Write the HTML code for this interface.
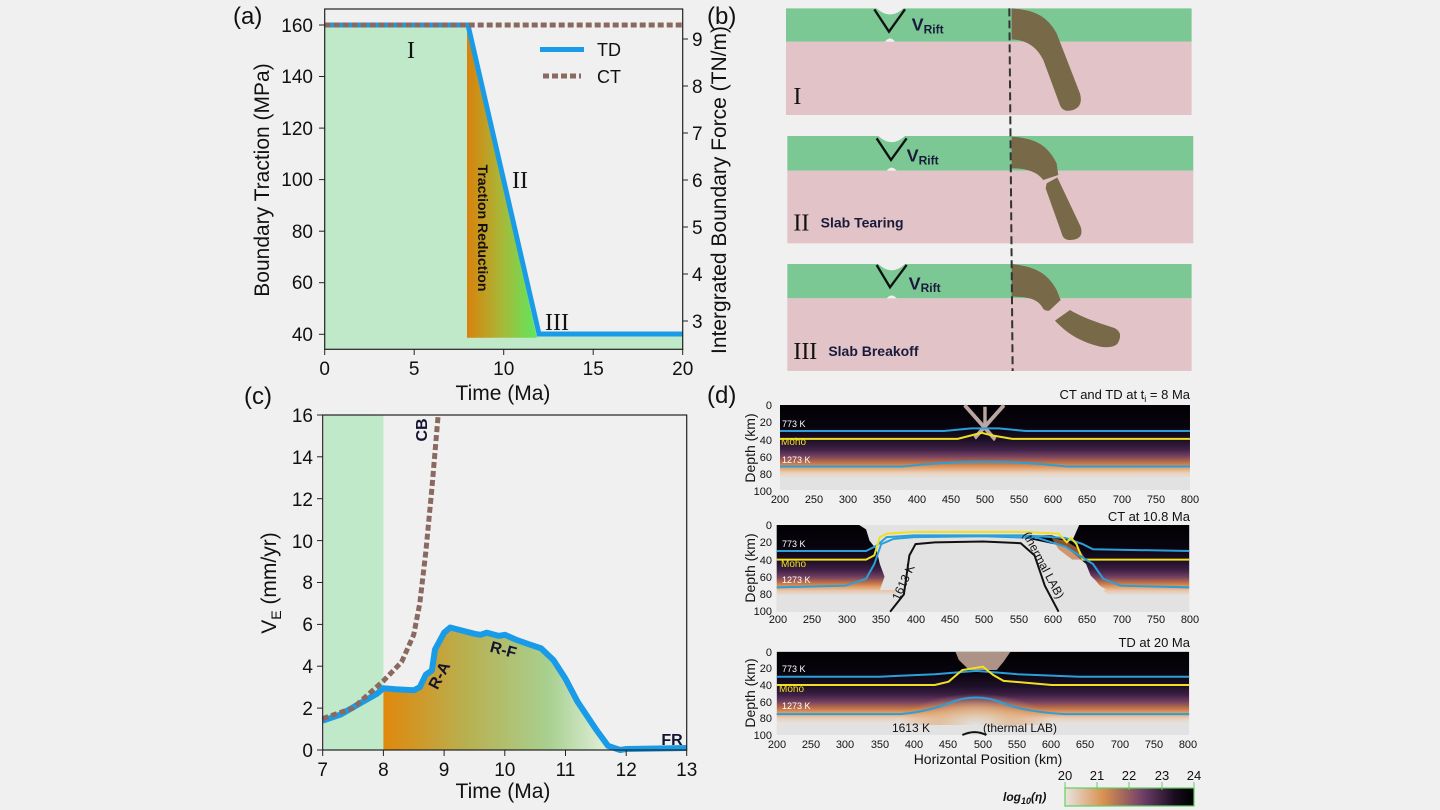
<!DOCTYPE html><html><head><style>body{margin:0;background:#f0f0f0}svg{display:block}text{font-family:"Liberation Sans",sans-serif;fill:#111}text.sf{font-family:"Liberation Serif",serif}</style></head><body>
<svg width="1440" height="810" viewBox="0 0 1440 810" xmlns="http://www.w3.org/2000/svg">
<defs>
<linearGradient id="tri" x1="0" x2="1" y1="0" y2="0"><stop offset="0" stop-color="#d8820c"/><stop offset="0.5" stop-color="#a8b838"/><stop offset="1" stop-color="#5ee85e"/></linearGradient>
<linearGradient id="cg" gradientUnits="userSpaceOnUse" x1="383" x2="620" y1="0" y2="0"><stop offset="0" stop-color="#e0880c"/><stop offset="0.35" stop-color="#b8b050"/><stop offset="0.7" stop-color="#a8d090"/><stop offset="1" stop-color="#eef6ea"/></linearGradient>
<linearGradient id="hm" x1="0" x2="0" y1="0" y2="1"><stop offset="0" stop-color="#020003"/><stop offset="0.25" stop-color="#08040e"/><stop offset="0.42" stop-color="#1e1028"/><stop offset="0.52" stop-color="#3e2045"/><stop offset="0.6" stop-color="#744060"/><stop offset="0.67" stop-color="#b86c48"/><stop offset="0.73" stop-color="#e09a60"/><stop offset="0.8" stop-color="#ead0ba"/><stop offset="0.86" stop-color="#e2e2e2"/><stop offset="1" stop-color="#e2e2e2"/></linearGradient>
<linearGradient id="hm2" gradientUnits="userSpaceOnUse" x1="0" x2="0" y1="0" y2="100"><stop offset="0" stop-color="#020003"/><stop offset="0.25" stop-color="#08040e"/><stop offset="0.42" stop-color="#1e1028"/><stop offset="0.52" stop-color="#3e2045"/><stop offset="0.6" stop-color="#744060"/><stop offset="0.66" stop-color="#b86c48"/><stop offset="0.71" stop-color="#e09a60"/><stop offset="0.76" stop-color="#e8c8b0"/><stop offset="0.82" stop-color="#e2e2e2"/></linearGradient>
<radialGradient id="bump" cx="0.5" cy="0.5" r="0.5"><stop offset="0" stop-color="#e2e2e2"/><stop offset="0.5" stop-color="#e0b890" stop-opacity="0.8"/><stop offset="1" stop-color="#e0a070" stop-opacity="0"/></radialGradient>
<linearGradient id="cb" x1="0" x2="1"><stop offset="0" stop-color="#e8e4e0"/><stop offset="0.3" stop-color="#d89050"/><stop offset="0.6" stop-color="#70406a"/><stop offset="0.85" stop-color="#1a0c20"/><stop offset="1" stop-color="#000"/></linearGradient>
<clipPath id="c3"><rect x="200" y="0" width="600" height="100"/></clipPath>
</defs>

<!-- PANEL A -->
<text x="233" y="24" font-size="24">(a)</text>
<rect x="324.7" y="25" width="143.3" height="324.3" fill="#bfe9c9"/>
<rect x="468" y="334" width="214.7" height="15.3" fill="#bfe9c9"/>
<polygon points="467,25 537,337.7 467,337.7" fill="url(#tri)"/>
<polyline points="324.7,25 468,25 539,334 682.7,334" fill="none" stroke="#1a9be8" stroke-width="5"/>
<line x1="324.7" y1="25" x2="682.7" y2="25" stroke="#8a6a60" stroke-width="5" stroke-dasharray="6,3"/>
<rect x="324.7" y="9" width="358" height="340.3" fill="none" stroke="#222" stroke-width="1.2"/>
<g font-size="19" text-anchor="end">
<text x="313" y="341">40</text><text x="313" y="289">60</text><text x="313" y="238">80</text><text x="313" y="186">100</text><text x="313" y="135">120</text><text x="313" y="83">140</text><text x="313" y="32">160</text></g>
<g stroke="#222"><line x1="319" y1="334.3" x2="324.7" y2="334.3"/><line x1="319" y1="282.7" x2="324.7" y2="282.7"/><line x1="319" y1="231.2" x2="324.7" y2="231.2"/><line x1="319" y1="179.6" x2="324.7" y2="179.6"/><line x1="319" y1="128.1" x2="324.7" y2="128.1"/><line x1="319" y1="76.5" x2="324.7" y2="76.5"/><line x1="319" y1="25" x2="324.7" y2="25"/>
<line x1="682.7" y1="39" x2="688" y2="39"/><line x1="682.7" y1="86" x2="688" y2="86"/><line x1="682.7" y1="133" x2="688" y2="133"/><line x1="682.7" y1="180" x2="688" y2="180"/><line x1="682.7" y1="227" x2="688" y2="227"/><line x1="682.7" y1="274" x2="688" y2="274"/><line x1="682.7" y1="321" x2="688" y2="321"/>
<line x1="324.7" y1="349" x2="324.7" y2="355"/><line x1="414.2" y1="349" x2="414.2" y2="355"/><line x1="503.7" y1="349" x2="503.7" y2="355"/><line x1="593.2" y1="349" x2="593.2" y2="355"/><line x1="682.7" y1="349" x2="682.7" y2="355"/></g>
<g font-size="19"><text x="692" y="46">9</text><text x="692" y="93">8</text><text x="692" y="140">7</text><text x="692" y="187">6</text><text x="692" y="234">5</text><text x="692" y="281">4</text><text x="692" y="328">3</text></g>
<g font-size="19" text-anchor="middle"><text x="324.7" y="375">0</text><text x="414.2" y="375">5</text><text x="503.7" y="375">10</text><text x="593.2" y="375">15</text><text x="682.7" y="375">20</text></g>
<text x="503" y="400" font-size="21" text-anchor="middle">Time (Ma)</text>
<text transform="translate(269,180) rotate(-90)" font-size="21" text-anchor="middle">Boundary Traction (MPa)</text>
<text transform="translate(726,190) rotate(-90)" font-size="21" text-anchor="middle">Intergrated Boundary Force (TN/m)</text>
<line x1="540" y1="49.5" x2="584" y2="49.5" stroke="#1a9be8" stroke-width="5"/><text x="597" y="56" font-size="18">TD</text>
<line x1="543" y1="76" x2="581" y2="76" stroke="#8a6a60" stroke-width="5" stroke-dasharray="6,3"/><text x="597" y="83" font-size="18">CT</text>
<g font-size="24"><text class="sf" x="411" y="58" text-anchor="middle">I</text><text class="sf" x="520" y="188" text-anchor="middle">II</text><text class="sf" x="557" y="330" text-anchor="middle">III</text></g>
<text transform="translate(478,228) rotate(90)" font-size="14" font-weight="bold" text-anchor="middle">Traction Reduction</text>

<!-- PANEL B -->
<text x="707" y="24" font-size="24">(b)</text>
<g transform="translate(780,0) scale(0.3333)">
<g fill="#e2c4c8"><rect x="18" y="125" width="1217" height="220"/><rect x="22" y="512" width="1218" height="218"/><rect x="22" y="895" width="1213" height="218"/></g>
<g fill="#7cc895">
<path d="M18,25 L290,25 Q330,62 370,25 L1235,25 L1235,125 L345,125 Q330,105 315,125 L18,125 Z"/>
<path d="M22,408 L295,408 Q335,445 375,408 L1240,408 L1240,512 L350,512 Q335,494 320,512 L22,512 Z"/>
<path d="M22,792 L295,792 Q335,830 375,792 L1235,792 L1235,895 L350,895 Q335,878 320,895 L22,895 Z"/></g>
<g fill="#786a48">
<path d="M695,25 C760,30 800,45 830,100 L900,280 Q912,325 870,332 Q845,335 838,310 L790,180 C770,140 740,120 695,118 Z"/>
<path d="M695,410 C760,415 800,430 830,490 L835,525 L790,540 C770,515 740,505 695,505 Z"/>
<path d="M800,550 L832,532 L902,680 Q914,718 872,720 Q850,722 845,700 L797,565 Z"/>
<path d="M695,792 C760,800 800,815 830,870 L842,900 L808,932 Q792,935 786,920 C770,895 740,890 695,890 Z"/>
<path d="M825,962 L870,930 C920,960 980,975 1005,985 Q1032,1000 1012,1032 Q995,1046 960,1040 C900,1025 860,1000 825,962 Z"/></g>
<line x1="688" y1="25" x2="698" y2="1113" stroke="#333" stroke-width="6" stroke-dasharray="24,12"/>
<g fill="none" stroke="#111" stroke-width="7"><polyline points="283,28 327,95 375,28"/><polyline points="290,415 333,480 380,415"/><polyline points="290,795 330,862 380,795"/></g>
<g font-weight="bold">
<text x="395" y="92" font-size="54" style="fill:#1a1a3a">V<tspan font-size="36" dy="8">Rift</tspan></text>
<text x="380" y="485" font-size="54" style="fill:#1a1a3a">V<tspan font-size="36" dy="8">Rift</tspan></text>
<text x="386" y="868" font-size="54" style="fill:#1a1a3a">V<tspan font-size="36" dy="8">Rift</tspan></text>
<text x="122" y="682" font-size="42" style="fill:#1a1a3a">Slab Tearing</text>
<text x="145" y="1068" font-size="42" style="fill:#1a1a3a">Slab Breakoff</text></g>
<g font-size="72"><text class="sf" x="40" y="312">I</text><text class="sf" x="40" y="692">II</text><text class="sf" x="40" y="1077">III</text></g>
</g>

<!-- PANEL C -->
<text x="244" y="404" font-size="24">(c)</text>
<rect x="324" y="415" width="59.4" height="335" fill="#bfe9c9"/>
<polygon fill="url(#cg)" points="383.4,750 383.4,688.2 395.5,689.3 413.7,690.3 419.8,687.2 425.9,674.6 431.9,670.4 435,649.5 444.1,632.7 450.2,627.5 462.3,630.6 474.5,633.8 480.5,634.8 486.6,632.7 498.7,635.9 504.8,634.8 517,640.1 529.1,644.3 541.2,648.4 553.4,660 565.5,678.8 577.6,701.8 595.8,729.1 608,745.8 620.1,750"/>
<polyline fill="none" stroke="#1a9be8" stroke-width="6" stroke-linejoin="round" points="322.7,720.7 340.9,714.4 359.1,703.9 377.3,693.5 383.4,688.2 395.5,689.3 413.7,690.3 419.8,687.2 425.9,674.6 431.9,670.4 435,649.5 444.1,632.7 450.2,627.5 462.3,630.6 474.5,633.8 480.5,634.8 486.6,632.7 498.7,635.9 504.8,634.8 517,640.1 529.1,644.3 541.2,648.4 553.4,660 565.5,678.8 577.6,701.8 595.8,729.1 608,745.8 620.1,750 626.2,749 686.7,748"/>
<polyline fill="none" stroke="#8a6a60" stroke-width="5" stroke-dasharray="6,3" points="322.7,718.6 353,708.1 383.4,680.9 401.6,662 413.7,634.8 419.8,603.4 425.9,551.1 431.9,488.3 438,417"/>
<rect x="322.7" y="415" width="364" height="335" fill="none" stroke="#222" stroke-width="1.2"/>
<g font-size="19" text-anchor="end"><text x="313" y="757">0</text><text x="313" y="715">2</text><text x="313" y="673">4</text><text x="313" y="631">6</text><text x="313" y="589">8</text><text x="313" y="548">10</text><text x="313" y="506">12</text><text x="313" y="464">14</text><text x="313" y="422">16</text></g>
<g stroke="#222"><line x1="317" y1="750" x2="322.7" y2="750"/><line x1="317" y1="708.1" x2="322.7" y2="708.1"/><line x1="317" y1="666.2" x2="322.7" y2="666.2"/><line x1="317" y1="624.4" x2="322.7" y2="624.4"/><line x1="317" y1="582.5" x2="322.7" y2="582.5"/><line x1="317" y1="540.6" x2="322.7" y2="540.6"/><line x1="317" y1="498.7" x2="322.7" y2="498.7"/><line x1="317" y1="456.8" x2="322.7" y2="456.8"/><line x1="317" y1="415" x2="322.7" y2="415"/>
<line x1="322.7" y1="750" x2="322.7" y2="756"/><line x1="383.4" y1="750" x2="383.4" y2="756"/><line x1="444.1" y1="750" x2="444.1" y2="756"/><line x1="504.8" y1="750" x2="504.8" y2="756"/><line x1="565.5" y1="750" x2="565.5" y2="756"/><line x1="626.2" y1="750" x2="626.2" y2="756"/><line x1="686.7" y1="750" x2="686.7" y2="756"/></g>
<g font-size="19" text-anchor="middle"><text x="322.7" y="776">7</text><text x="383.4" y="776">8</text><text x="444.1" y="776">9</text><text x="504.8" y="776">10</text><text x="565.5" y="776">11</text><text x="626.2" y="776">12</text><text x="686.7" y="776">13</text></g>
<text x="503" y="798" font-size="21" text-anchor="middle">Time (Ma)</text>
<text transform="translate(276,583) rotate(-90)" font-size="21" text-anchor="middle">V<tspan font-size="14" dy="5">E</tspan><tspan dy="-5"> (mm/yr)</tspan></text>
<g font-weight="bold" font-size="16">
<text transform="translate(427,430) rotate(-90)" text-anchor="middle" style="fill:#141430">CB</text>
<text transform="translate(444,678) rotate(-62)" text-anchor="middle" style="fill:#141430">R-A</text>
<text transform="translate(502,655) rotate(15)" text-anchor="middle" style="fill:#141430">R-F</text>
<text x="672" y="745" text-anchor="middle" style="fill:#141430">FR</text></g>

<!-- PANEL D -->
<text x="707" y="403" font-size="24">(d)</text>
<g transform="translate(643.33,405) scale(0.6833,0.867)">
<rect x="200" y="0" width="600" height="98" fill="url(#hm)"/>
<g fill="none" stroke="#e8d0c8" stroke-width="5" opacity="0.8"><path d="M470,0 L515,40"/><path d="M528,0 L485,38"/><path d="M500,2 L500,25"/></g>
<g fill="none" stroke-width="2">
<path vector-effect="non-scaling-stroke" stroke="#2a9fd8" d="M200,30 L440,30 L480,27 L520,27 L560,30 L800,30"/>
<path vector-effect="non-scaling-stroke" stroke="#f0e020" d="M200,39 L460,39 L485,34 L495,32 L510,35 L540,39 L800,39"/>
<path vector-effect="non-scaling-stroke" stroke="#2a9fd8" d="M200,71 L380,71 Q500,60 620,71 L800,71"/></g>
</g>
<g transform="translate(639.2,525) scale(0.6875,0.867)">
<rect x="200" y="0" width="600" height="100" fill="#e2e2e2"/>
<path fill="url(#hm2)" d="M200,0 L320,0 L330,5 L335,18 L345,28 L350,45 L358,62 L372,72 L380,100 L200,100 Z"/>
<path fill="url(#hm2)" d="M560,12 L600,12 L630,18 L640,0 L800,0 L800,100 L700,100 L665,65 L640,45 L600,35 L570,25 Z"/>
<rect x="200" y="80" width="600" height="20" fill="#e2e2e2"/>
<path d="M350,75 L370,30 L380,18 L560,15 L620,25 L650,45 L660,65 L680,75 Z" fill="#e2e2e2"/>
<path d="M600,15 L620,18 L640,28 L650,40 L630,40 L610,28 Z" fill="#c87840" opacity="0.7"/>
<g fill="none" stroke-width="2">
<path vector-effect="non-scaling-stroke" stroke="#2a9fd8" d="M200,30 L330,30 L345,24 L360,14 L400,12 L560,12 L620,15 L645,22 L660,28 L800,30"/>
<path vector-effect="non-scaling-stroke" stroke="#f0e020" d="M200,40 L330,40 L342,35 L350,14 L360,10 L400,8 L560,8 L610,10 L622,20 L628,15 L636,22 L645,40 L800,40"/>
<path vector-effect="non-scaling-stroke" stroke="#2a9fd8" d="M200,72 L300,70 L330,62 L342,45 L352,22 L370,16 L400,14 L500,13 L580,15 L620,25 L640,35 L660,45 L675,62 L700,70 L800,72"/>
<path vector-effect="non-scaling-stroke" stroke="#111" d="M365,100 L385,80 L393,35 L402,22 L430,20 L500,19 L555,21 L575,35 L590,70 L610,100"/></g>
</g>
<g transform="translate(639.2,651.7) scale(0.6875,0.833)">
<g clip-path="url(#c3)">
<rect x="200" y="0" width="600" height="100" fill="url(#hm)"/>
<ellipse cx="490" cy="88" rx="110" ry="38" fill="url(#bump)"/>
<rect x="200" y="88" width="600" height="12" fill="#e2e2e2"/>
<path d="M460,0 L540,0 L530,12 L520,22 L480,22 L465,10 Z" fill="#d8b8a8" opacity="0.8"/>
</g>
<g fill="none" stroke-width="2">
<path vector-effect="non-scaling-stroke" stroke="#2a9fd8" d="M200,30 L350,30 L430,27 L490,23 L550,27 L640,30 L800,30"/>
<path vector-effect="non-scaling-stroke" stroke="#f0e020" d="M200,40 L430,40 L450,36 L470,22 L500,18 L515,28 L530,35 L600,40 L800,40"/>
<path vector-effect="non-scaling-stroke" stroke="#2a9fd8" d="M200,75 L380,75 Q420,72 450,62 Q490,48 530,62 Q560,72 620,75 L800,75"/>
<path vector-effect="non-scaling-stroke" stroke="#111" d="M470,100 Q488,93 505,100"/></g>
</g>
<g font-size="9">
<text x="782" y="427" style="fill:#fff">773 K</text><text x="782" y="463" style="fill:#fff">1273 K</text>
<text x="782" y="547" style="fill:#fff">773 K</text><text x="782" y="583" style="fill:#fff">1273 K</text>
<text x="782" y="672" style="fill:#fff">773 K</text><text x="782" y="709" style="fill:#fff">1273 K</text></g>
<g font-size="10"><text x="781" y="445" style="fill:#f0e020">Moho</text><text x="781" y="567" style="fill:#f0e020">Moho</text><text x="779" y="692" style="fill:#f0e020">Moho</text></g>
<text transform="translate(907,584) rotate(-65)" font-size="12" text-anchor="middle">1613 K</text>
<text transform="translate(1040,567) rotate(62)" font-size="12" text-anchor="middle">(thermal LAB)</text>
<text x="930" y="732" font-size="12" text-anchor="end">1613 K</text>
<text x="983" y="732" font-size="12">(thermal LAB)</text>
<g font-size="13" text-anchor="end"><text x="1190" y="399">CT and TD at t<tspan font-size="9" dy="3">i</tspan><tspan dy="-3"> = 8 Ma</tspan></text><text x="1190" y="521">CT at 10.8 Ma</text><text x="1190" y="647">TD at 20 Ma</text></g>
<g font-size="11" text-anchor="end">
<text x="772" y="409">0</text><text x="772" y="426">20</text><text x="772" y="444">40</text><text x="772" y="461">60</text><text x="772" y="478">80</text><text x="772" y="495">100</text>
<text x="772" y="529">0</text><text x="772" y="546">20</text><text x="772" y="564">40</text><text x="772" y="581">60</text><text x="772" y="598">80</text><text x="772" y="615">100</text>
<text x="772" y="656">0</text><text x="772" y="672">20</text><text x="772" y="689">40</text><text x="772" y="706">60</text><text x="772" y="722">80</text><text x="772" y="739">100</text></g>
<g font-size="11" text-anchor="middle">
<text x="780" y="503">200</text><text x="814" y="503">250</text><text x="848" y="503">300</text><text x="882" y="503">350</text><text x="917" y="503">400</text><text x="951" y="503">450</text><text x="985" y="503">500</text><text x="1019" y="503">550</text><text x="1053" y="503">600</text><text x="1087" y="503">650</text><text x="1122" y="503">700</text><text x="1156" y="503">750</text><text x="1190" y="503">800</text>
<text x="778" y="623">200</text><text x="812" y="623">250</text><text x="847" y="623">300</text><text x="881" y="623">350</text><text x="916" y="623">400</text><text x="950" y="623">450</text><text x="984" y="623">500</text><text x="1019" y="623">550</text><text x="1053" y="623">600</text><text x="1087" y="623">650</text><text x="1122" y="623">700</text><text x="1156" y="623">750</text><text x="1190" y="623">800</text>
<text x="777" y="748">200</text><text x="811" y="748">250</text><text x="845" y="748">300</text><text x="880" y="748">350</text><text x="914" y="748">400</text><text x="948" y="748">450</text><text x="983" y="748">500</text><text x="1017" y="748">550</text><text x="1051" y="748">600</text><text x="1085" y="748">650</text><text x="1120" y="748">700</text><text x="1154" y="748">750</text><text x="1188" y="748">800</text></g>
<g font-size="14" text-anchor="middle">
<text transform="translate(755,448) rotate(-90)">Depth (km)</text>
<text transform="translate(755,568) rotate(-90)">Depth (km)</text>
<text transform="translate(755,693) rotate(-90)">Depth (km)</text></g>
<text x="988" y="764" font-size="14" text-anchor="middle">Horizontal Position (km)</text>
<rect x="1065" y="788" width="129" height="18" fill="url(#cb)" stroke="#60d060" stroke-width="1.2"/>
<g stroke="#60d060"><line x1="1065" y1="782" x2="1065" y2="790"/><line x1="1097" y1="782" x2="1097" y2="790"/><line x1="1129" y1="782" x2="1129" y2="790"/><line x1="1162" y1="782" x2="1162" y2="790"/><line x1="1194" y1="782" x2="1194" y2="790"/></g>
<g font-size="13" text-anchor="middle"><text x="1065" y="780">20</text><text x="1097" y="780">21</text><text x="1129" y="780">22</text><text x="1162" y="780">23</text><text x="1194" y="780">24</text></g>
<text x="1003" y="801" font-size="12" font-weight="bold" font-style="italic">log<tspan font-size="9" dy="3">10</tspan><tspan dy="-3">(η)</tspan></text>
</svg></body></html>
